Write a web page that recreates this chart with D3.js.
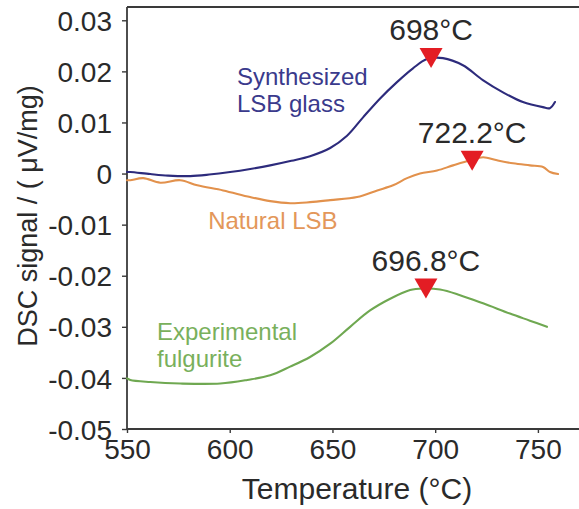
<!DOCTYPE html>
<html>
<head>
<meta charset="utf-8">
<script src="https://cdn.jsdelivr.net/npm/d3@7/dist/d3.min.js"></script>
<style>
  html, body { margin: 0; padding: 0; background: #fff; }
  svg { display: block; font-family: Arial, "Liberation Sans", sans-serif; }
</style>
</head>
<body>
<svg id="chart" width="579" height="509"></svg>
<script>
// ---- data ----
const synthT = [550, 551.6, 561.3, 570, 580.8, 590, 600.2, 610, 619.7, 630, 639.1, 648.9, 657.1, 664.9, 673.2, 681.4, 689.2, 696, 703.8, 713.5, 723.2, 733, 742.7, 752.4, 755.8, 758.3];
const synthV = [0.0003, 0.0003, -0.0001, -0.0004, -0.0005, -0.0002, 0.0003, 0.0009, 0.0016, 0.0025, 0.0034, 0.0050, 0.0074, 0.0110, 0.0147, 0.0179, 0.0206, 0.0224, 0.0226, 0.0212, 0.0183, 0.0159, 0.0140, 0.0130, 0.0128, 0.0140];

const naturalT = [550, 551.6, 557.9, 566.2, 575.9, 584.2, 596.8, 609.9, 619.7, 629.4, 639.1, 648.9, 662, 671.8, 679.5, 686.3, 692.6, 700.9, 708.7, 717, 723.3, 730.1, 737.9, 746.1, 752.5, 755.9, 759.8];
const naturalV = [-0.0013, -0.0013, -0.0009, -0.0018, -0.0013, -0.0023, -0.0033, -0.0046, -0.0054, -0.0058, -0.0056, -0.0052, -0.0046, -0.0033, -0.0023, -0.0009, 0.0000, 0.0006, 0.0016, 0.0026, 0.0032, 0.0026, 0.0020, 0.0016, 0.0013, 0.0003, -0.0001];

const fulgT = [550, 551.6, 561.3, 575.9, 595.4, 608.5, 619.7, 629.4, 639.1, 648.9, 658.6, 668.3, 678.1, 687.8, 694.1, 702.4, 712.1, 723.3, 736.4, 746.1, 754.4];
const fulgV = [-0.0401, -0.0404, -0.0408, -0.0411, -0.0411, -0.0404, -0.0395, -0.0378, -0.0359, -0.0333, -0.0300, -0.0268, -0.0245, -0.0228, -0.0225, -0.0227, -0.0238, -0.0254, -0.0274, -0.0288, -0.0300];

const seriesNames = ["Synthesized LSB glass", "Natural LSB", "Experimental fulgurite"];
const seriesColors = ["#2d2b7c", "#e2914c", "#6fa851"];
const labelColors = ["#3a3a8c", "#e3975a", "#79b05c"];
const labelLines = [["Synthesized", "LSB glass"], ["Natural LSB"], ["Experimental", "fulgurite"]];
const labelT = [603.5, 589.5, 564.6];
const labelV = [0.0173, -0.0109, -0.0326];

const peakT = [698, 718, 695.5];
const peakV = [0.0226, 0.0025, -0.0225];
const peakLabels = ["698°C", "722.2°C", "696.8°C"];

const xTicks = [550, 600, 650, 700, 750];
const yTicks = [0.03, 0.02, 0.01, 0, -0.01, -0.02, -0.03, -0.04, -0.05];
const yTickLabels = ["0.03", "0.02", "0.01", "0", "-0.01", "-0.02", "-0.03", "-0.04", "-0.05"];
const xTitle = "Temperature (°C)";
const yTitle = "DSC signal / ( μV/mg)";

// ---- layout ----
const svg = d3.select("#chart");
const mLeft = 127, mRight = 579, mTop = 7, mBottom = 429;

const x = d3.scaleLinear().domain([550, 770]).range([mLeft, mRight]);
const y = d3.scaleLinear().domain([-0.05, 0.0326]).range([mBottom, mTop]);

const axisColor = "#3a3a3a";
const textColor = "#2a2a2a";

// frame top line
svg.append("line")
  .attr("x1", mLeft).attr("x2", mRight).attr("y1", mTop).attr("y2", mTop)
  .attr("stroke", axisColor).attr("stroke-width", 1.8);

// axes
const xAxis = svg.append("g").attr("transform", `translate(0,${mBottom})`)
  .call(d3.axisBottom(x).tickValues(xTicks).tickSizeOuter(0).tickSizeInner(4).tickPadding(6));
const yAxis = svg.append("g").attr("transform", `translate(${mLeft},0)`)
  .call(d3.axisLeft(y).tickValues(yTicks).tickSizeOuter(0).tickSizeInner(5)
    .tickFormat((d, i) => yTickLabels[i]).tickPadding(10));

[xAxis, yAxis].forEach(g => {
  g.select(".domain").attr("stroke", axisColor).attr("stroke-width", 1.8);
  g.selectAll(".tick line").attr("stroke", axisColor).attr("stroke-width", 1.4);
  g.selectAll(".tick text").attr("fill", textColor).style("font-size", "28px")
    .style("font-family", "Arial, 'Liberation Sans', sans-serif");
});
xAxis.select(".domain").attr("d", `M${mLeft},0H${mRight}`);
yAxis.select(".domain").attr("d", `M0,${mTop}V${mBottom}`);
xAxis.selectAll(".tick text").attr("dy", "0.71em");
yAxis.selectAll(".tick text").attr("dy", "0.36em");

// titles
svg.append("text")
  .attr("x", 357).attr("y", 499)
  .attr("text-anchor", "middle").attr("fill", textColor)
  .style("font-size", "30px").text(xTitle);
svg.append("text")
  .attr("transform", "translate(37,216) rotate(-90)")
  .attr("text-anchor", "middle").attr("fill", textColor)
  .style("font-size", "27px").text(yTitle);

// lines
const seriesT = [synthT, naturalT, fulgT];
const seriesV = [synthV, naturalV, fulgV];
const line = d3.line().x(d => x(d[0])).y(d => y(d[1])).curve(d3.curveCatmullRom.alpha(0.5));
seriesNames.forEach((name, i) => {
  const pts = seriesT[i].map((t, j) => [t, seriesV[i][j]]);
  svg.append("path").datum(pts)
    .attr("d", line).attr("fill", "none")
    .attr("stroke", seriesColors[i]).attr("stroke-width", 2.1)
    .attr("stroke-linejoin", "round").attr("stroke-linecap", "round");
});

// series labels
labelLines.forEach((lines, i) => {
  const t = svg.append("text")
    .attr("x", x(labelT[i])).attr("y", y(labelV[i]))
    .attr("fill", labelColors[i]).style("font-size", "24px");
  lines.forEach((s, k) => {
    t.append("tspan").attr("x", x(labelT[i])).attr("dy", k === 0 ? 0 : 26.7).text(s);
  });
});

// peak markers
peakT.forEach((t, i) => {
  const cx = x(t), cy = y(peakV[i]);
  svg.append("path")
    .attr("d", `M${cx - 11.5},${cy - 10}L${cx + 11.5},${cy - 10}L${cx},${cy + 10}Z`)
    .attr("fill", "#e31d24");
  svg.append("text")
    .attr("x", cx).attr("y", cy - 18)
    .attr("text-anchor", "middle").attr("fill", textColor)
    .style("font-size", "30px").text(peakLabels[i]);
});
</script>
</body>
</html>
